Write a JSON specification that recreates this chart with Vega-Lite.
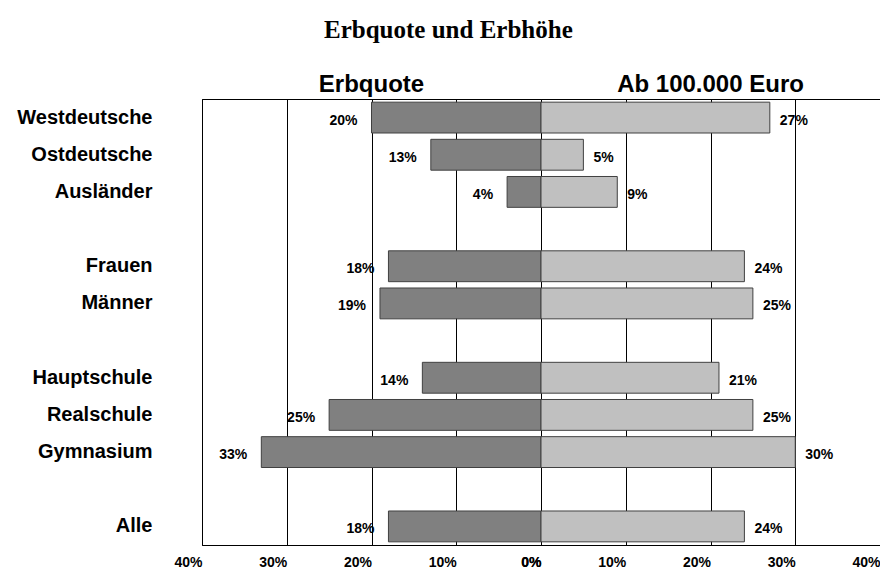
{
  "$schema": "https://vega.github.io/schema/vega-lite/v6.json",
  "padding": {"left": 16, "top": 17, "right": 0, "bottom": 0},
  "title": {"text": "Erbquote und Erbhöhe", "font": "Liberation Serif", "fontSize": 25, "fontWeight": "bold", "color": "black", "anchor": "middle", "baseline": "alphabetic", "offset": 10},
  "data": {"values": [
    {"cat": "Westdeutsche", "erb": 0.20, "ab": 0.27},
    {"cat": "Ostdeutsche", "erb": 0.13, "ab": 0.05},
    {"cat": "Ausländer", "erb": 0.04, "ab": 0.09},
    {"cat": "Frauen", "erb": 0.18, "ab": 0.24},
    {"cat": "Männer", "erb": 0.19, "ab": 0.25},
    {"cat": "Hauptschule", "erb": 0.14, "ab": 0.21},
    {"cat": "Realschule", "erb": 0.25, "ab": 0.25},
    {"cat": "Gymnasium", "erb": 0.33, "ab": 0.30},
    {"cat": "Alle", "erb": 0.18, "ab": 0.24}
  ]},
  "spacing": 0,
  "bounds": "flush",
  "config": {
    "view": {"stroke": "black", "strokeWidth": 1},
    "font": "Liberation Sans",
    "axis": {"labelFont": "Liberation Sans", "labelColor": "black", "labelFontWeight": "bold", "domainColor": "black", "gridColor": "black", "gridOpacity": 1}
  },
  "hconcat": [
    {
      "width": 339, "height": 446,
      "title": {"text": "Erbquote", "font": "Liberation Sans", "fontSize": 24, "fontWeight": "bold", "color": "black", "baseline": "alphabetic", "offset": -17, "anchor": "middle"},
      "encoding": {
        "y": {"field": "cat", "type": "nominal",
          "scale": {"domain": ["Westdeutsche", "Ostdeutsche", "Ausländer", "gap1", "Frauen", "Männer", "gap2", "Hauptschule", "Realschule", "Gymnasium", "gap3", "Alle"], "paddingInner": 0.17, "paddingOuter": 0.085},
          "axis": {"title": null, "labelExpr": "indexof(datum.value, 'gap') == 0 ? '' : datum.value", "ticks": false, "labelPadding": 50, "labelFontSize": 20, "domain": true}}
      },
      "layer": [
        {"mark": {"type": "bar", "color": "#808080", "stroke": "#404040", "strokeWidth": 1},
         "encoding": {"x": {"field": "erb", "type": "quantitative",
           "scale": {"domain": [0, 0.4], "reverse": true, "nice": false},
           "axis": {"values": [0, 0.1, 0.2, 0.3, 0.4], "format": ".0%", "labelAlign": "right", "labelFlush": false, "grid": true, "ticks": false, "domain": false, "title": null, "labelFontSize": 14, "labelPadding": 10}}}},
        {"mark": {"type": "text", "align": "right", "baseline": "middle", "dx": -14, "dy": 3, "fontSize": 14, "fontWeight": "bold", "font": "Liberation Sans", "color": "black"},
         "encoding": {"x": {"field": "erb", "type": "quantitative"}, "text": {"field": "erb", "type": "quantitative", "format": ".0%"}}}
      ]
    },
    {
      "width": 339, "height": 446,
      "title": {"text": "Ab 100.000 Euro", "font": "Liberation Sans", "fontSize": 24, "fontWeight": "bold", "color": "black", "baseline": "alphabetic", "offset": -17, "anchor": "middle"},
      "encoding": {
        "y": {"field": "cat", "type": "nominal",
          "scale": {"domain": ["Westdeutsche", "Ostdeutsche", "Ausländer", "gap1", "Frauen", "Männer", "gap2", "Hauptschule", "Realschule", "Gymnasium", "gap3", "Alle"], "paddingInner": 0.17, "paddingOuter": 0.085},
          "axis": null}
      },
      "layer": [
        {"mark": {"type": "bar", "color": "#c0c0c0", "stroke": "#404040", "strokeWidth": 1},
         "encoding": {"x": {"field": "ab", "type": "quantitative",
           "scale": {"domain": [0, 0.4], "nice": false},
           "axis": {"values": [0, 0.1, 0.2, 0.3, 0.4], "format": ".0%", "labelAlign": "right", "labelFlush": false, "grid": true, "ticks": false, "domain": false, "title": null, "labelFontSize": 14, "labelPadding": 10}}}},
        {"mark": {"type": "text", "align": "left", "baseline": "middle", "dx": 10, "dy": 3, "fontSize": 14, "fontWeight": "bold", "font": "Liberation Sans", "color": "black"},
         "encoding": {"x": {"field": "ab", "type": "quantitative"}, "text": {"field": "ab", "type": "quantitative", "format": ".0%"}}}
      ]
    }
  ]
}
